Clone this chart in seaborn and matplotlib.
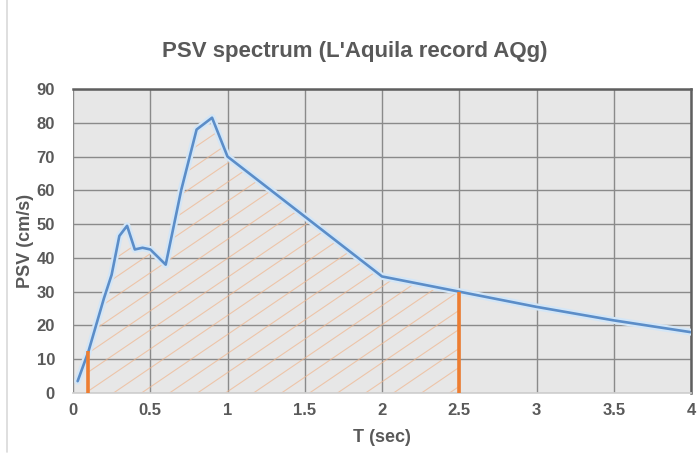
import matplotlib
matplotlib.use("Agg")
import matplotlib.pyplot as plt
from matplotlib.lines import Line2D
import seaborn as sns
import numpy as np
import pandas as pd

# Data
period_T = [0.03, 0.1, 0.2, 0.25, 0.3, 0.35, 0.4, 0.45, 0.5, 0.6, 0.7, 0.8, 0.9, 1.0, 2.0, 2.5, 3.0, 3.5, 4.0]
psv_values = [3.5, 12.3, 28.0, 35.0, 46.5, 49.5, 42.5, 43.0, 42.5, 38.0, 60.0, 78.0, 81.5, 70.0, 34.5, 30.0, 25.5, 21.5, 18.0]
range_start = 0.1
range_end = 2.5
x_ticks = [0, 0.5, 1, 1.5, 2, 2.5, 3, 3.5, 4]
x_tick_labels = ["0", "0.5", "1", "1.5", "2", "2.5", "3", "3.5", "4"]
y_ticks = [0, 10, 20, 30, 40, 50, 60, 70, 80, 90]

df = pd.DataFrame({"T": period_T, "PSV": psv_values})

sns.set_theme(style="white")
plt.rcParams["font.family"] = ["Liberation Sans", "DejaVu Sans"]

W, H = 700, 461
fig = plt.figure(figsize=(W / 100, H / 100), dpi=100)
ax = fig.add_axes([73 / W, 1 - 393 / H, 618 / W, 304 / H])
ax.set_facecolor("#e7e7e7")
ax.set_xlim(0, 4)
ax.set_ylim(0, 90)

# light frame line at the left edge of the chart
fig.add_artist(Line2D([6.5 / W, 6.5 / W], [0.02, 1.0], color="#d9d9d9", linewidth=1.2,
                      transform=fig.transFigure))

# region between the two periods (hatched with diagonal lines)
Tarr = np.array(period_T)
Parr = np.array(psv_values)
reg_x = np.concatenate([[range_start], Tarr[(Tarr > range_start) & (Tarr < range_end)], [range_end]])
reg_y = np.interp(reg_x, Tarr, Parr)
poly = ax.fill_between(reg_x, 0, reg_y, facecolor="none", edgecolor="none", linewidth=0, zorder=2)

# diagonal hatch: slope in pixel space ~0.68, horizontal spacing ~28 px
px_per_x = 618 / 4
px_per_y = 304 / 90
slope_data = 0.68 * px_per_x / px_per_y
spacing = 28 / px_per_x
clip = poly.get_paths()[0]
xs = np.array([-1.0, 5.0])
c = -3.0
while c < 4.0:
    ln, = ax.plot(xs, slope_data * (xs - c), color="#f0b68e", linewidth=0.8, alpha=0.7, zorder=2)
    ln.set_clip_path(clip, ax.transData)
    c += spacing

# glow + line
ax.plot(period_T, psv_values, color="#d3e6f7", linewidth=5, zorder=3, solid_capstyle="round")
sns.lineplot(data=df, x="T", y="PSV", ax=ax, color="#5b8dc8", linewidth=1.9,
             zorder=4, sort=False)

# orange verticals
for t in [range_start, range_end]:
    ax.vlines(t, 0, np.interp(t, Tarr, Parr), color="#ed7d31", linewidth=2.6, zorder=5)

ax.set_xlim(0, 4)
ax.set_ylim(0, 90)
ax.set_xticks(x_ticks)
ax.set_xticklabels(x_tick_labels)
ax.set_yticks(y_ticks)
ax.grid(True, color="#8a8a8a", linewidth=1.0, zorder=1)
ax.set_axisbelow(True)

for side in ["top", "right"]:
    ax.spines[side].set_visible(True)
    ax.spines[side].set_color("#5f5f5f")
    ax.spines[side].set_linewidth(1.8)
ax.spines["left"].set_visible(False)
ax.spines["bottom"].set_color("#d0d0d0")

ax.tick_params(axis="both", length=0, labelsize=12, labelcolor="#595959")
ax.tick_params(axis="x", pad=7)
ax.tick_params(axis="y", pad=13)
for lab in ax.get_xticklabels() + ax.get_yticklabels():
    lab.set_fontweight("bold")

ax.set_xlabel("T (sec)", fontsize=13, fontweight="bold", color="#595959")
ax.set_ylabel("PSV (cm/s)", fontsize=13, fontweight="bold", color="#595959")
ax.xaxis.label.set_va("center")
ax.yaxis.label.set_va("center")
ax.xaxis.set_label_coords(0.5, (393 - 437) / 304)
ax.yaxis.set_label_coords((25 - 73) / 618, 0.5)

fig.text(355 / W, 1 - 51 / H, "PSV spectrum (L'Aquila record AQg)", ha="center", va="center",
         fontsize=16, fontweight="bold", color="#595959")

fig.savefig("out.png", dpi=100)
